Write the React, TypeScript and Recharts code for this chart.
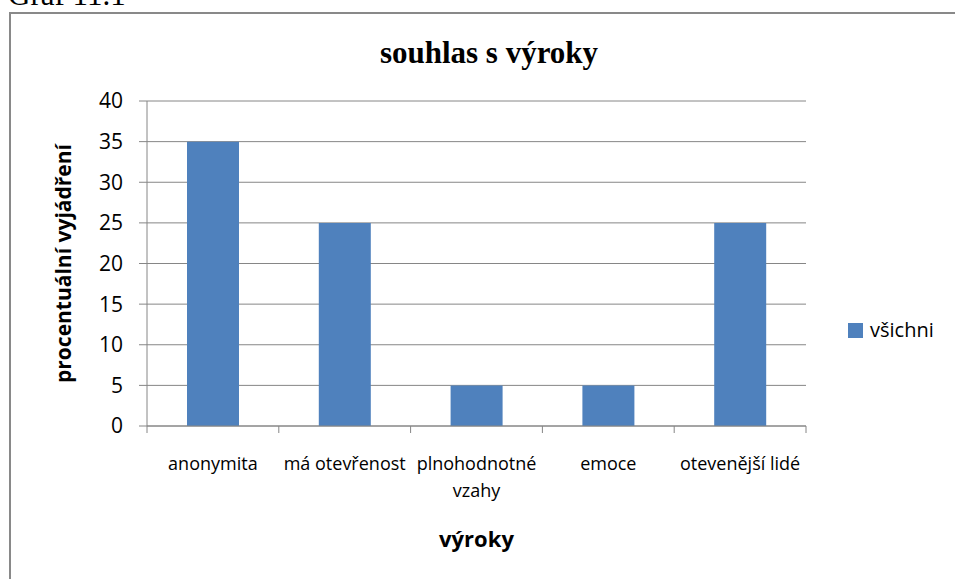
import { BarChart, Bar, XAxis, YAxis, CartesianGrid, Label, Text } from 'recharts';

const categories = ['anonymita', 'má otevřenost', 'plnohodnotné vzahy', 'emoce', 'otevenější lidé'];
const vsichni = [35, 25, 5, 5, 25];
const yTicks = [0, 5, 10, 15, 20, 25, 30, 35, 40];

const SERIES_NAME = 'všichni';
const BAR_COLOR = '#4F81BD';
const AXIS_COLOR = '#868686';
const SANS = '"Open Sans", "Noto Sans", sans-serif';
const SERIF = '"Liberation Serif", "DejaVu Serif", serif';

const data = categories.map((name, i) => ({ name, value: vsichni[i] }));

const CategoryTick = (props: any) => {
    const { x, y, payload, index, visibleTicksCount } = props;
    const half = payload?.offset ?? 0;
    const isLast = index === visibleTicksCount - 1;
    return (
        <g>
            <line x1={x - half} x2={x - half} y1={y - 7} y2={y} stroke={AXIS_COLOR} />
            {isLast && <line x1={x + half} x2={x + half} y1={y - 7} y2={y} stroke={AXIS_COLOR} />}
            <Text
                x={x}
                y={y + 24}
                width={half * 2}
                textAnchor="middle"
                verticalAnchor="start"
                lineHeight={27}
                style={{ fontFamily: SANS, fontSize: 18, fill: '#000' }}
            >
                {payload.value}
            </Text>
        </g>
    );
};

// legend sits to the right of the plot, like the Excel original
const SeriesLegend = () => (
    <div
        style={{
            position: 'absolute', left: 848, top: 316, display: 'flex', alignItems: 'center',
            fontFamily: SANS, fontSize: 20, color: '#000', lineHeight: '28px',
        }}
    >
        <span style={{ display: 'inline-block', width: 15, height: 15, background: BAR_COLOR, marginRight: 7 }} />
        <span>{SERIES_NAME}</span>
    </div>
);

export default function App() {
    return (
        <div style={{ position: 'absolute', left: 0, top: 0, width: 955, height: 579, overflow: 'hidden', background: '#fff' }}>
            <div style={{ position: 'absolute', left: 8, top: -21, fontFamily: SERIF, fontSize: 31, lineHeight: '31px', color: '#000' }}>
                Graf 11.1
            </div>
            <div style={{ position: 'absolute', left: 9, top: 12, width: 980, height: 620, border: '2px solid #898989' }} />
            <div
                style={{
                    position: 'absolute', left: 289, top: 37, width: 400, textAlign: 'center',
                    fontFamily: SERIF, fontWeight: 'bold', fontSize: 31, lineHeight: '31px', color: '#000',
                }}
            >
                souhlas s výroky
            </div>
            <div style={{ position: 'absolute', left: 0, top: 0 }}>
                <BarChart width={955} height={579} data={data} margin={{ top: 101, right: 149, bottom: 23, left: 0 }}>
                    <CartesianGrid vertical={false} stroke={AXIS_COLOR} />
                    <XAxis
                        dataKey="name"
                        height={130}
                        axisLine={{ stroke: AXIS_COLOR }}
                        tickLine={false}
                        tickSize={7}
                        tickMargin={0}
                        interval={0}
                        tick={<CategoryTick />}
                    >
                        <Label
                            content={({ viewBox }: any) => (
                                <text
                                    x={viewBox.x + viewBox.width / 2}
                                    y={viewBox.y + 121}
                                    textAnchor="middle"
                                    style={{ fontFamily: SANS, fontWeight: 'bold', fontSize: 22, fill: '#000' }}
                                >
                                    výroky
                                </text>
                            )}
                        />
                    </XAxis>
                    <YAxis
                        width={147}
                        domain={[0, 40]}
                        ticks={yTicks}
                        interval={0}
                        axisLine={{ stroke: AXIS_COLOR }}
                        tickLine={{ stroke: AXIS_COLOR }}
                        tickSize={8}
                        tickMargin={16}
                        tick={{ fontFamily: SANS, fontSize: 21, fill: '#000' }}
                    >
                        <Label
                            content={({ viewBox }: any) => {
                                const cx = viewBox.x + 63;
                                const cy = viewBox.y + viewBox.height / 2;
                                return (
                                    <text
                                        x={cx}
                                        y={cy}
                                        transform={`rotate(-90, ${cx}, ${cy})`}
                                        textAnchor="middle"
                                        dominantBaseline="central"
                                        style={{ fontFamily: SANS, fontWeight: 'bold', fontSize: 21, fill: '#000' }}
                                    >
                                        procentuální vyjádření
                                    </text>
                                );
                            }}
                        />
                    </YAxis>
                    <Bar dataKey="value" name={SERIES_NAME} fill={BAR_COLOR} barSize={52} isAnimationActive={false} />
                </BarChart>
            </div>
            <SeriesLegend />
        </div>
    );
}
